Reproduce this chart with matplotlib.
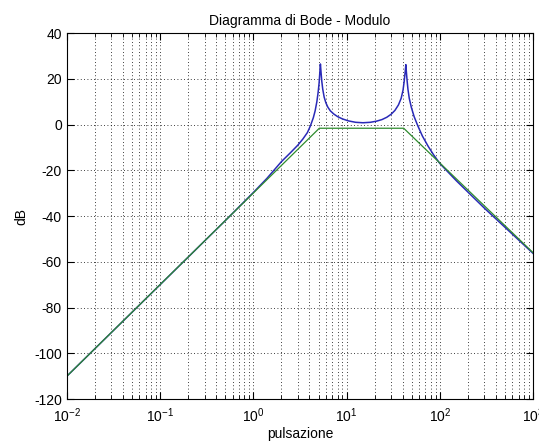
# Diagramma di Bode - modulo (reale + asintotico)

import numpy as np
import matplotlib.pyplot as plt
from matplotlib.ticker import LogLocator, FixedLocator

plt.rcParams['font.family'] = ['Liberation Sans', 'DejaVu Sans']
plt.rcParams['mathtext.fontset'] = 'custom'
plt.rcParams['mathtext.rm'] = 'Liberation Sans'
plt.rcParams['axes.unicode_minus'] = False

# modulo reale
w_real = [0.01, 0.1, 0.5, 1.0, 1.4, 2.0, 2.5, 3.0, 3.4, 3.8, 4.1, 4.4, 4.6,
          4.8, 4.95, 5.07, 5.16, 5.24, 5.32, 5.42, 5.55, 5.75, 6.0, 6.3, 6.7,
          7.3, 8.0, 9.0, 10.5, 12.5, 15, 18, 21, 24, 27, 30, 33, 36, 38.5,
          40.3, 41.5, 42.5, 43.2, 43.8, 44.5, 45.5, 47, 49.5, 53, 58, 65, 75,
          86, 100, 150, 300, 1000]
db_real = [-110, -70, -42, -29.7, -23.5, -16.2, -12.3, -9.0, -6.3, -3.5, -0.5,
           3.0, 6.0, 10.0, 14.0, 18.0, 22.5, 26.5, 23.0, 19.0, 15.5, 12.0, 9.5,
           7.6, 6.0, 4.6, 3.5, 2.5, 1.6, 1.0, 0.8, 1.0, 1.5, 2.2, 3.2, 4.5,
           6.2, 8.6, 11.5, 15.0, 19.0, 23.0, 26.2, 23.0, 19.5, 15.5, 11.5, 7.5,
           3.5, -0.5, -5.0, -9.5, -13.3, -17.0, -24.5, -36.5, -56.3]

# diagramma asintotico
w_asin = [0.01, 5.1, 41, 1000]
db_asin = [-110, -1.6, -1.6, -56]

fig = plt.figure(figsize=(5.39, 4.41), dpi=100)
ax = fig.add_axes([0.124, 0.095, 0.865, 0.830])

ax.semilogx(w_real, db_real, color='#2a2ab8', lw=1.1)
ax.semilogx(w_asin, db_asin, color='#2e8b2e', lw=0.9)

ax.set_xlim(1e-2, 1e3)
ax.set_ylim(-120, 40)
ax.yaxis.set_major_locator(FixedLocator(np.arange(-120, 41, 20)))
ax.xaxis.set_major_locator(LogLocator(base=10, numticks=10))
ax.xaxis.set_minor_locator(LogLocator(base=10, subs=np.arange(2, 10), numticks=20))

ax.grid(True, which='major', color='k', linestyle=(0, (1, 3)), lw=0.6)
ax.grid(True, which='minor', axis='x', color='k', linestyle=(0, (1, 3)), lw=0.6)

ax.tick_params(which='both', direction='in', top=True, right=True,
               labelsize=10, colors='k')
ax.tick_params(which='major', length=5)
ax.tick_params(which='minor', length=3)
ax.tick_params(axis='x', pad=5)
for s in ax.spines.values():
    s.set_linewidth(0.8)

ax.set_title('Diagramma di Bode - Modulo', fontsize=10)
ax.set_xlabel('pulsazione', fontsize=10, labelpad=2)
ax.set_ylabel('dB', fontsize=10, labelpad=4)

fig.savefig('out.png', dpi=100)
